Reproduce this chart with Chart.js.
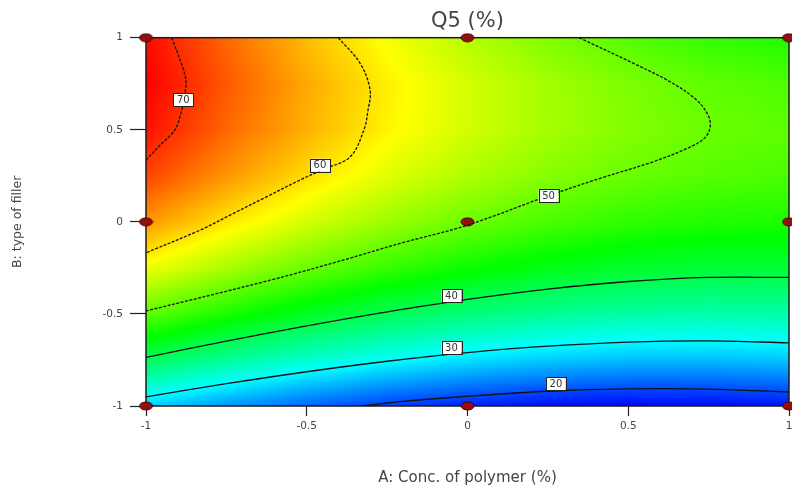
<!DOCTYPE html>
<html>
<head>
<meta charset="utf-8">
<script src="https://cdn.jsdelivr.net/npm/chart.js@4/dist/chart.umd.min.js"></script>
<style>
  html, body { margin: 0; padding: 0; background: #ffffff; }
  #wrap { width: 792px; height: 489px; position: relative; }
</style>
</head>
<body>
<div id="wrap"><canvas id="c" width="792" height="489"></canvas></div>
<script>
// ---- Data (coded factor units) ----
const xTicks = [-1, -0.5, 0, 0.5, 1];          // A: Conc. of polymer
const yTicks = [-1, -0.5, 0, 0.5, 1];          // B: type of filler

// Grid of predicted Q5 (%) values
const aLevels = [-1, -0.75, -0.5, -0.25, 0, 0.25, 0.5, 0.75, 1];
const bLevels = [-1, -0.75, -0.5, -0.25, 0, 0.25, 0.5, 0.75, 1];
const q5Grid = [
  [27.5, 24.2, 21.4, 19.2, 17.6, 16.5, 16.0, 16.2, 16.9],  // B = -1
  [39.4, 35.8, 32.7, 30.3, 28.4, 27.1, 26.4, 26.3, 26.8],  // B = -0.75
  [49.4, 45.6, 42.3, 39.6, 37.5, 36.0, 35.0, 34.7, 34.9],  // B = -0.5
  [57.7, 53.6, 50.1, 47.2, 44.8, 43.0, 41.8, 41.2, 41.2],  // B = -0.25
  [64.2, 59.8, 56.1, 52.9, 50.3, 48.3, 46.8, 46.0, 45.7],  // B = 0
  [68.8, 64.3, 60.3, 56.8, 54.0, 51.7, 50.1, 49.0, 48.4],  // B = 0.25
  [71.7, 66.9, 62.7, 59.0, 55.9, 53.4, 51.5, 50.1, 49.4],  // B = 0.5
  [72.8, 67.7, 63.2, 59.3, 56.0, 53.3, 51.1, 49.5, 48.5],  // B = 0.75
  [72.1, 66.8, 62.1, 57.9, 54.3, 51.3, 48.9, 47.1, 45.9]   // B = 1
];

// Contour lines, [A, B] pairs along each level
const contour20 = [[-0.33,-1],[-0.2,-0.975],[0,-0.947],[0.25,-0.92],[0.5,-0.907],[0.75,-0.908],[1,-0.924]];
const contour30 = [[-1,-0.95],[-0.75,-0.879],[-0.5,-0.814],[-0.25,-0.757],[0,-0.71],[0.25,-0.675],[0.5,-0.653],[0.75,-0.646],[1,-0.657]];
const contour40 = [[-1,-0.736],[-0.75,-0.648],[-0.5,-0.565],[-0.25,-0.489],[0,-0.421],[0.25,-0.365],[0.5,-0.324],[0.75,-0.302],[1,-0.302]];
const contour50 = [[0.347,1],[0.516,0.861],[0.63,0.761],[0.713,0.661],[0.748,0.58],[0.755,0.52],[0.74,0.46],[0.692,0.406],[0.577,0.326],[0.412,0.236],[0.252,0.142],[0,-0.018],[-0.21,-0.117],[-0.387,-0.208],[-0.614,-0.317],[-1,-0.484]];
const contour60 = [[-0.402,1],[-0.334,0.861],[-0.303,0.716],[-0.31,0.6],[-0.322,0.5],[-0.365,0.353],[-0.45,0.284],[-0.521,0.227],[-0.625,0.136],[-0.728,0.046],[-0.832,-0.045],[-1,-0.168]];
const contour70 = [[-0.92,1],[-0.894,0.879],[-0.876,0.77],[-0.882,0.664],[-0.89,0.6],[-0.91,0.5],[-0.956,0.417],[-1,0.335]];

const contourLevels = [20, 30, 40, 50, 60, 70];
const contourLines = [contour20, contour30, contour40, contour50, contour60, contour70];
// Where each level's value tag sits, [A, B]
const contourTagAt = [[0.275,-0.879],[-0.05,-0.684],[-0.05,-0.401],[0.252,0.142],[-0.459,0.308],[-0.884,0.664]];

// Design points
const designA = [-1, 0, 1, -1, 0, 1, -1, 0, 1];
const designB = [-1, -1, -1, 0, 0, 0, 1, 1, 1];

// ---- Styling ----
const FONT = 'DejaVu Sans';
const TEXT = '#444444';
const rampStops = [15.8, 30.0, 44.2, 58.4, 72.6];
const rampColors = [[0,0,255],[0,255,255],[0,255,0],[255,255,0],[255,0,0]];

function colourFor(v) {
  if (v <= rampStops[0]) return rampColors[0];
  const n = rampStops.length - 1;
  if (v >= rampStops[n]) return rampColors[n];
  for (let k = 0; k < n; k++) {
    if (v <= rampStops[k + 1]) {
      const t = (v - rampStops[k]) / (rampStops[k + 1] - rampStops[k]);
      const c0 = rampColors[k], c1 = rampColors[k + 1];
      return [c0[0] + (c1[0] - c0[0]) * t, c0[1] + (c1[1] - c0[1]) * t, c0[2] + (c1[2] - c0[2]) * t];
    }
  }
  return rampColors[n];
}

function locate(levels, v) {
  const n = levels.length - 1;
  if (v <= levels[0]) return [0, 0];
  if (v >= levels[n]) return [n - 1, 1];
  for (let i = 0; i < n; i++) {
    if (v <= levels[i + 1]) return [i, (v - levels[i]) / (levels[i + 1] - levels[i])];
  }
  return [n - 1, 1];
}

function gridValue(a, b) {
  const [i, tx] = locate(aLevels, a);
  const [j, ty] = locate(bLevels, b);
  const v00 = q5Grid[j][i], v10 = q5Grid[j][i + 1];
  const v01 = q5Grid[j + 1][i], v11 = q5Grid[j + 1][i + 1];
  return (v00 * (1 - tx) + v10 * tx) * (1 - ty) + (v01 * (1 - tx) + v11 * tx) * ty;
}

// Filled colour field under the contour lines, plus the plot frame
const fieldPlugin = {
  id: 'field',
  beforeDatasetsDraw(chart) {
    const { ctx, chartArea: ca, scales: { x, y } } = chart;
    const w = Math.max(1, Math.round(ca.right - ca.left));
    const h = Math.max(1, Math.round(ca.bottom - ca.top));
    const off = document.createElement('canvas');
    off.width = w; off.height = h;
    const g = off.getContext('2d');
    const img = g.createImageData(w, h);
    for (let j = 0; j < h; j++) {
      const b = y.getValueForPixel(ca.top + (j + 0.5) * (ca.bottom - ca.top) / h);
      for (let i = 0; i < w; i++) {
        const a = x.getValueForPixel(ca.left + (i + 0.5) * (ca.right - ca.left) / w);
        const c = colourFor(gridValue(a, b));
        const p = (j * w + i) * 4;
        img.data[p] = c[0]; img.data[p + 1] = c[1]; img.data[p + 2] = c[2]; img.data[p + 3] = 255;
      }
    }
    g.putImageData(img, 0, 0);
    ctx.save();
    ctx.drawImage(off, ca.left, ca.top, ca.right - ca.left, ca.bottom - ca.top);
    ctx.lineWidth = 1.5;
    ctx.strokeStyle = '#1a1a1a';
    ctx.strokeRect(ca.left, ca.top, ca.right - ca.left, ca.bottom - ca.top);
    ctx.restore();
  }
};

// Value tags on the contour lines
const tagPlugin = {
  id: 'tags',
  afterDatasetsDraw(chart) {
    const { ctx, scales: { x, y } } = chart;
    ctx.save();
    ctx.font = '10px "' + FONT + '"';
    ctx.textAlign = 'center';
    ctx.textBaseline = 'middle';
    contourLevels.forEach((lv, k) => {
      const px = x.getPixelForValue(contourTagAt[k][0]);
      const py = y.getPixelForValue(contourTagAt[k][1]);
      const txt = String(lv);
      const tw = ctx.measureText(txt).width + 7;
      const th = 13;
      ctx.fillStyle = '#ffffff';
      ctx.fillRect(px - tw / 2, py - th / 2, tw, th);
      ctx.lineWidth = 1;
      ctx.strokeStyle = '#222222';
      ctx.strokeRect(Math.round(px - tw / 2) + 0.5, Math.round(py - th / 2) + 0.5, Math.round(tw), th);
      ctx.fillStyle = '#333333';
      ctx.fillText(txt, px, py + 0.5);
    });
    ctx.restore();
  }
};

function makeDot() {
  const c = document.createElement('canvas');
  c.width = 15; c.height = 10;
  const g = c.getContext('2d');
  g.beginPath();
  g.ellipse(7.5, 5, 6.5, 4, 0, 0, Math.PI * 2);
  g.fillStyle = '#941010';
  g.fill();
  g.lineWidth = 1;
  g.strokeStyle = '#4d0000';
  g.stroke();
  return c;
}

const datasets = contourLines.map((pts, k) => ({
  type: 'scatter',
  label: 'Q5 = ' + contourLevels[k],
  data: pts.map(p => ({ x: p[0], y: p[1] })),
  showLine: true,
  tension: 0.35,
  borderColor: '#111111',
  borderWidth: 1.3,
  borderDash: contourLevels[k] >= 50 ? [3, 1.5] : [],
  pointRadius: 0,
  pointHoverRadius: 0,
  fill: false
}));

datasets.push({
  type: 'scatter',
  label: 'Design points',
  data: designA.map((a, i) => ({ x: a, y: designB[i] })),
  pointStyle: makeDot(),
  pointRadius: 6,
  clip: false
});

function fixedTicks(list) {
  return function (scale) { scale.ticks = list.map(v => ({ value: v })); };
}
const plainLabel = v => String(v);

new Chart(document.getElementById('c'), {
  type: 'scatter',
  data: { datasets },
  plugins: [fieldPlugin, tagPlugin],
  options: {
    responsive: false,
    animation: false,
    events: [],
    layout: { autoPadding: false, padding: { left: 0, right: 3, top: 0, bottom: 0 } },
    plugins: {
      legend: { display: false },
      tooltip: { enabled: false },
      title: {
        display: true,
        text: 'Q5 (%)',
        fullSize: false,
        color: TEXT,
        font: { family: FONT, size: 21, weight: 'normal' },
        padding: { top: 9, bottom: 3.5 }
      }
    },
    scales: {
      x: {
        type: 'linear', min: -1, max: 1,
        afterBuildTicks: fixedTicks(xTicks),
        grid: { drawOnChartArea: false, drawTicks: true, tickLength: 10, tickColor: '#222222', tickWidth: 1.2 },
        border: { display: false },
        ticks: { color: TEXT, font: { family: FONT, size: 10.5 }, padding: 4, maxRotation: 0, callback: plainLabel },
        title: { display: true, text: 'A: Conc. of polymer (%)', color: TEXT, font: { family: FONT, size: 15 }, padding: { top: 0, bottom: 2 } },
        afterFit(s) { s.height = 83; s.paddingLeft = 0; s.paddingRight = 0; }
      },
      y: {
        type: 'linear', min: -1, max: 1,
        afterBuildTicks: fixedTicks(yTicks),
        grid: { drawOnChartArea: false, drawTicks: true, tickLength: 16, tickColor: '#222222', tickWidth: 1.2 },
        border: { display: false },
        ticks: { color: TEXT, font: { family: FONT, size: 10.5 }, padding: 7, callback: plainLabel },
        title: { display: true, text: 'B: type of filler', color: TEXT, font: { family: FONT, size: 12.5 }, padding: { top: 10, bottom: 0 } },
        afterFit(s) { s.width = 146; }
      }
    }
  }
});
</script>
</body>
</html>
